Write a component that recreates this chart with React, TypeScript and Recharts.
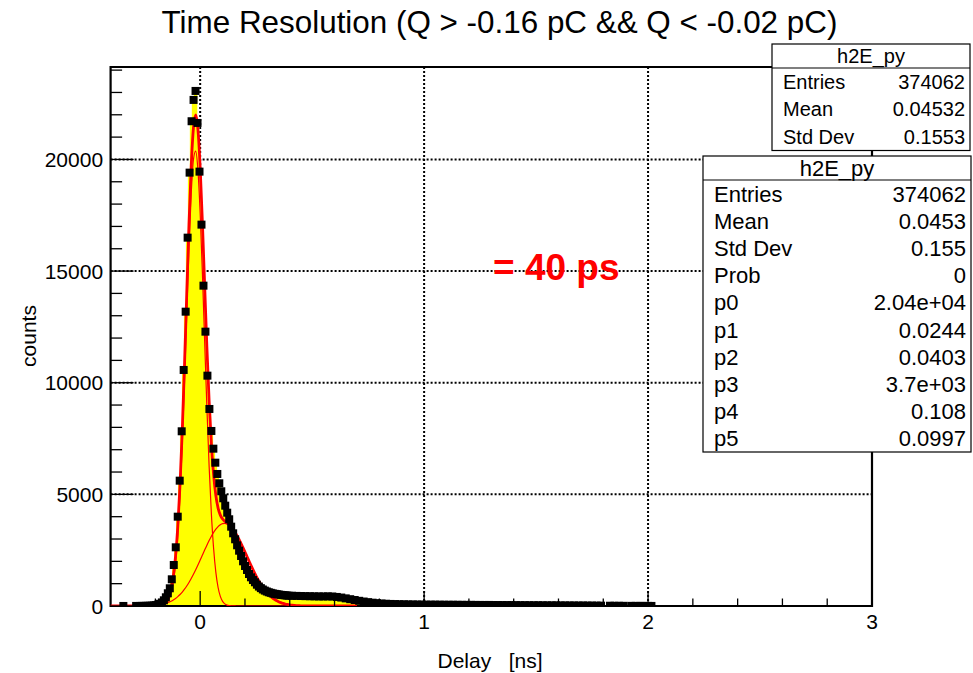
import React from 'react'
import {
  ComposedChart,
  XAxis,
  YAxis,
  CartesianGrid,
  Area,
  Line,
  Scatter,
  ReferenceArea
} from 'recharts'

const font = '"Liberation Sans", Arial, Helvetica, sans-serif'

// histogram around the peak, one value per bin (bin width ~0.0088 ns)
const binWidth = 0.00884
const firstBin = -0.2682
const peakCounts = [
  3, 4, 5, 6, 8, 11, 15, 24, 38, 62,
  100, 160, 255, 390, 570, 793, 1196, 1836, 2629, 4000,
  5613, 7825, 10571, 13182, 16497, 19409, 21711, 22665, 23068, 21635,
  19454, 17080, 14347, 12287, 10316, 8824, 7839, 7046, 6419, 5913,
  5496, 5138, 4824, 4493, 4179, 3884, 3553, 3256, 2988, 2719,
  2477, 2240, 2002, 1792, 1613, 1433, 1286, 1165, 1062, 954,
  870, 800, 740, 690, 650, 615, 590, 565, 545, 530,
  515, 500, 490, 480, 470, 462
]

// long tail, read every 0.02 ns
const tailStart = 0.41
const tailStep = 0.02
const tailCounts = [
  458, 452, 447, 442, 438, 433, 430, 428, 432, 426,
  405, 378, 342, 305, 268, 232, 200, 172, 148, 128,
  112, 100, 92, 86, 80, 76, 72, 69, 66, 64,
  62, 60, 61, 58, 57, 55, 56, 53, 52, 50,
  51, 48, 47, 46, 47, 44, 43, 42, 41, 42,
  38, 37, 36, 35, 33, 34, 31, 30, 29, 30,
  27, 26, 25, 24, 22, 23, 20, 19, 17, 16
]

// isolated non-empty bins
const sparseX = [-0.343, -0.286, 1.83, 1.85, 1.87, 1.89, 1.925, 1.945, 1.965, 1.98, 2.0, 2.015]
const sparseCounts = [2, 3, 12, 10, 9, 8, 6, 5, 5, 4, 4, 3]

// fit curves (total and the two gaussian pieces)
const fitX = [
  -0.4, -0.3, -0.25, -0.2, -0.19, -0.18, -0.17, -0.16, -0.15, -0.14,
  -0.13, -0.12, -0.11, -0.1, -0.09, -0.08, -0.07, -0.06, -0.05, -0.04,
  -0.03, -0.02, -0.01, 0, 0.01, 0.02, 0.03, 0.04, 0.05, 0.06,
  0.07, 0.08, 0.09, 0.1, 0.11, 0.12, 0.13, 0.14, 0.15, 0.16,
  0.17, 0.18, 0.19, 0.2, 0.21, 0.22, 0.23, 0.24, 0.25, 0.26,
  0.27, 0.28, 0.29, 0.3, 0.31, 0.32, 0.33, 0.34, 0.35, 0.36,
  0.37, 0.38, 0.39, 0.4, 0.41, 0.42, 0.43, 0.44, 0.45, 0.5,
  0.55, 0.6, 0.7
]
const fitG1 = [
  0, 0, 0, 1, 3, 9, 24, 58, 132, 281,
  562, 1060, 1879, 3136, 4917, 7243, 10033, 13078, 16026, 18463,
  20002, 20375, 19514, 17575, 14886, 11853, 8878, 6251, 4135, 2574,
  1506, 829, 429, 209, 96, 41, 17, 6, 2, 1,
  0, 0, 0, 0, 0, 0, 0, 0, 0, 0,
  0, 0, 0, 0, 0, 0, 0, 0, 0, 0,
  0, 0, 0, 0, 0, 0, 0, 0, 0, 0,
  0, 0, 0
]
const fitG2 = [
  0, 1, 6, 31, 42, 57, 76, 100, 130, 168,
  214, 271, 339, 420, 515, 625, 751, 895, 1054, 1230,
  1420, 1623, 1836, 2058, 2283, 2506, 2724, 2932, 3124, 3295,
  3441, 3557, 3640, 3688, 3699, 3673, 3611, 3514, 3386, 3229,
  3049, 2851, 2638, 2417, 2193, 1969, 1750, 1540, 1342, 1157,
  988, 836, 699, 579, 475, 386, 310, 247, 195, 152,
  117, 89, 68, 51, 38, 28, 20, 15, 10, 2,
  0, 0, 0
]
const fitTotal = [
  0, 1, 6, 32, 45, 66, 100, 158, 262, 449,
  776, 1331, 2218, 3556, 5432, 7868, 10784, 13973, 17080, 19693,
  21422, 21998, 21350, 19633, 17169, 14359, 11602, 9183, 7259, 5869,
  4947, 4386, 4069, 3897, 3795, 3714, 3628, 3520, 3388, 3230,
  3049, 2851, 2638, 2417, 2193, 1969, 1750, 1540, 1342, 1157,
  988, 836, 699, 579, 475, 386, 310, 247, 195, 152,
  117, 89, 68, 51, 38, 28, 20, 15, 10, 2,
  0, 0, 0
]

const xTicks = [-0.2, 0, 0.2, 0.4, 0.6, 0.8, 1, 1.2, 1.4, 1.6, 1.8, 2, 2.2, 2.4, 2.6, 2.8, 3]
const yTicks = [
  0, 1000, 2000, 3000, 4000, 5000, 6000, 7000, 8000, 9000, 10000, 11000, 12000,
  13000, 14000, 15000, 16000, 17000, 18000, 19000, 20000, 21000, 22000, 23000, 24000
]
const gridX = [0, 1, 2]
const gridY = [5000, 10000, 15000, 20000]
const yMax = 24140

const statsTop = [
  ['Entries', '374062'],
  ['Mean', '0.04532'],
  ['Std Dev', '0.1553']
]
const statsFit = [
  ['Entries', '374062'],
  ['Mean', '0.0453'],
  ['Std Dev', '0.155'],
  ['Prob', '0'],
  ['p0', '2.04e+04'],
  ['p1', '0.0244'],
  ['p2', '0.0403'],
  ['p3', '3.7e+03'],
  ['p4', '0.108'],
  ['p5', '0.0997']
]

const hist = [
  ...peakCounts.map((c, i) => ({ x: firstBin + i * binWidth, y: c })),
  ...tailCounts.map((c, i) => ({ x: tailStart + i * tailStep, y: c })),
  ...sparseX.map((x, i) => ({ x, y: sparseCounts[i] }))
].sort((a, b) => a.x - b.x)
const histFill = [{ x: -0.4, y: 0 }, ...hist, { x: 3, y: 0 }]
const toPts = (ys: number[]) => fitX.map((x, i) => ({ x, y: ys[i] }))

const XTick = (p: any) => {
  const v = p.payload.value
  const major = Number.isInteger(v)
  return (
    <g>
      <line x1={p.x} x2={p.x} y1={p.y} y2={p.y - (major ? 15 : 7.5)} stroke="#000" strokeWidth={1.3} />
      {major && (
        <text x={p.x} y={p.y + 22.5} textAnchor="middle" fontSize={21} fontFamily={font} fill="#000">
          {v}
        </text>
      )}
    </g>
  )
}

const YTick = (p: any) => {
  const v = p.payload.value
  const major = v % 5000 === 0
  return (
    <g>
      <line x1={p.x} x2={p.x + (major ? 23 : 11.5)} y1={p.y} y2={p.y} stroke="#000" strokeWidth={1.3} />
      {major && (
        <text x={p.x - 7.5} y={p.y + 7.5} textAnchor="end" fontSize={21} fontFamily={font} fill="#000">
          {v}
        </text>
      )}
    </g>
  )
}

const Square = (p: any) => <rect x={p.cx - 4} y={p.cy - 4} width={8} height={8} fill="#000" />

const StatBox = ({ x, y, w, head, rowH, size, rows }: any) => (
  <g fontFamily={font} fontSize={size} fill="#000">
    <rect x={x} y={y} width={w} height={head + rowH * rows.length} fill="#fff" stroke="#000" strokeWidth={1.2} />
    <line x1={x} x2={x + w} y1={y + head} y2={y + head} stroke="#000" strokeWidth={1.2} />
    <text x={x + w / 2} y={y + head / 2 + size * 0.36} textAnchor="middle">h2E_py</text>
    {rows.map((r: string[], i: number) => (
      <g key={r[0]}>
        <text x={x + 11} y={y + head + rowH * (i + 0.5) + size * 0.36}>{r[0]}</text>
        <text x={x + w - 5} y={y + head + rowH * (i + 0.5) + size * 0.36} textAnchor="end">{r[1]}</text>
      </g>
    ))}
  </g>
)

const App = () => {
  return (
    <div style={{ position: 'absolute', left: 0, top: 0, width: 973, height: 673, background: '#fff' }}>
      <ComposedChart width={973} height={673} margin={{ top: 67, right: 101, bottom: 0, left: 0 }}>
        <CartesianGrid
          verticalValues={gridX}
          horizontalValues={gridY}
          stroke="#000"
          strokeWidth={2}
          strokeDasharray="2 2"
        />
        <XAxis
          dataKey="x"
          type="number"
          domain={[-0.4, 3]}
          ticks={xTicks}
          interval={0}
          tick={XTick}
          tickLine={false}
          axisLine={false}
          tickSize={0}
          tickMargin={0}
          height={67}
          allowDataOverflow
        />
        <YAxis
          type="number"
          domain={[0, yMax]}
          ticks={yTicks}
          interval={0}
          tick={YTick}
          tickLine={false}
          axisLine={false}
          tickSize={0}
          tickMargin={0}
          width={110.6}
          allowDataOverflow
        />
        <Area
          data={histFill}
          dataKey="y"
          type="step"
          fill="#ffff00"
          fillOpacity={1}
          stroke="#ffff00"
          strokeWidth={1.5}
          isAnimationActive={false}
        />
        <Line data={toPts(fitG1)} dataKey="y" type="monotone" stroke="#ff0000" strokeWidth={1.2} dot={false} isAnimationActive={false} />
        <Line data={toPts(fitG2)} dataKey="y" type="monotone" stroke="#ff0000" strokeWidth={1.2} dot={false} isAnimationActive={false} />
        <Line data={toPts(fitTotal)} dataKey="y" type="monotone" stroke="#ff0000" strokeWidth={2.8} dot={false} isAnimationActive={false} />
        <Scatter data={hist} dataKey="y" shape={Square} isAnimationActive={false} />
        <ReferenceArea x1={-0.4} x2={3} y1={0} y2={yMax} fill="none" stroke="#000" strokeWidth={2.2} ifOverflow="visible" />
      </ComposedChart>
      <svg width={973} height={673} style={{ position: 'absolute', left: 0, top: 0, pointerEvents: 'none' }}>
        <text x={499.5} y={33} textAnchor="middle" fontSize={31.4} fontFamily={font} fill="#000">
          Time Resolution (Q &gt; -0.16 pC &amp;&amp; Q &lt; -0.02 pC)
        </text>
        <text x={36} y={336} transform="rotate(-90 36 336)" textAnchor="middle" fontSize={21} fontFamily={font} fill="#000">
          counts
        </text>
        <text x={490} y={668} textAnchor="middle" fontSize={21} fontFamily={font} fill="#000" style={{ whiteSpace: 'pre' }}>
          {'Delay   [ns]'}
        </text>
        <text x={493} y={280} fontSize={37} fontWeight="bold" fontFamily={font} fill="#ff0000">
          = 40 ps
        </text>
        <StatBox x={772} y={44} w={198} head={24} rowH={27.5} size={20} rows={statsTop} />
        <StatBox x={703} y={156} w={268} head={24} rowH={27.2} size={22} rows={statsFit} />
      </svg>
    </div>
  )
}

export default App
